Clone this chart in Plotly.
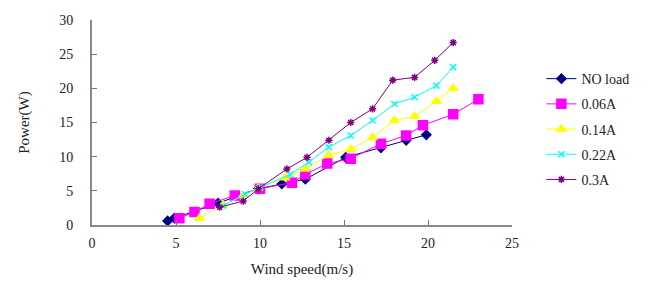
import plotly.graph_objects as go

# Data
noload_x = [4.5, 4.9, 7.5, 9.9, 11.3, 12.7, 15.1, 17.2, 18.7, 19.9]
noload_y = [0.6, 1.0, 3.2, 5.3, 6.0, 6.7, 9.9, 11.3, 12.4, 13.2]

a006_x = [5.2, 6.1, 7.0, 8.5, 10.0, 11.9, 12.7, 14.0, 15.4, 17.2, 18.7, 19.7, 21.5, 23.0]
a006_y = [1.0, 1.9, 3.1, 4.3, 5.3, 6.2, 7.4, 9.0, 9.7, 11.9, 13.1, 14.6, 16.2, 18.4]

a014_x = [6.4, 7.8, 9.0, 9.9, 11.5, 12.7, 14.1, 15.4, 16.7, 18.0, 19.2, 20.5, 21.5]
a014_y = [1.0, 2.9, 4.3, 5.4, 6.9, 8.2, 10.2, 11.1, 12.8, 15.3, 15.9, 18.1, 20.0]

a022_x = [7.8, 9.1, 10.0, 11.8, 12.9, 14.1, 15.4, 16.7, 18.0, 19.2, 20.5, 21.5]
a022_y = [2.8, 4.5, 5.5, 7.4, 9.2, 11.4, 13.1, 15.3, 17.7, 18.7, 20.4, 23.1]

a03_x = [7.6, 9.0, 9.9, 11.6, 12.8, 14.1, 15.4, 16.7, 17.9, 19.2, 20.4, 21.5]
a03_y = [2.6, 3.5, 5.3, 8.2, 9.9, 12.4, 15.0, 17.0, 21.2, 21.6, 24.1, 26.7]

x_ticks = [0, 5, 10, 15, 20, 25]
y_ticks = [0, 5, 10, 15, 20, 25, 30]

series = [
    ("NO load", noload_x, noload_y, "#000080", "diamond", 7),
    ("0.06A", a006_x, a006_y, "#FF00FF", "square", 9),
    ("0.14A", a014_x, a014_y, "#FFFF00", "triangle-up", 8),
    ("0.22A", a022_x, a022_y, "#00FFFF", "x-thin", 6),
    ("0.3A", a03_x, a03_y, "#800080", "asterisk", 6),
]

fig = go.Figure()
for i, (name, xs, ys, col, sym, sz) in enumerate(series):
    fig.add_trace(go.Scatter(
        x=xs, y=ys, name=name, mode="lines+markers",
        line=dict(color=col, width=1),
        marker=dict(color=col, symbol=sym, size=sz,
                    line=dict(color=col, width=1.5)),
        legendgroup=str(i),
    ))

font = dict(family="Liberation Serif, Times New Roman, serif", size=14, color="#222222")
fig.update_layout(
    width=666, height=282,
    margin=dict(l=84, r=162, t=12, b=65),
    paper_bgcolor="white", plot_bgcolor="white",
    font=font,
    showlegend=True,
    legend=dict(x=1.07, y=0.79, xanchor="left", yanchor="top",
                font=dict(family="Liberation Serif, serif", size=14, color="#222222"),
                tracegroupgap=4, itemwidth=30, bgcolor="rgba(0,0,0,0)"),
)
fig.update_xaxes(range=[0, 25], tickvals=x_ticks, ticks="inside", ticklen=5,
                 tickcolor="#777777", showline=True, linecolor="#888888", linewidth=2,
                 showgrid=False, zeroline=False, automargin=False,
                 ticklabelstandoff=4,
                 title=dict(text="Wind speed(m/s)", standoff=14, font=dict(size=15)))
fig.update_yaxes(range=[0, 30], tickvals=y_ticks, ticks="inside", ticklen=5,
                 tickcolor="#777777", showline=True, linecolor="#888888", linewidth=2,
                 showgrid=False, zeroline=False, automargin=False,
                 ticklabelstandoff=14,
                 title=dict(text="Power(W)", standoff=26, font=dict(size=15)))

fig.write_html("out.html")
